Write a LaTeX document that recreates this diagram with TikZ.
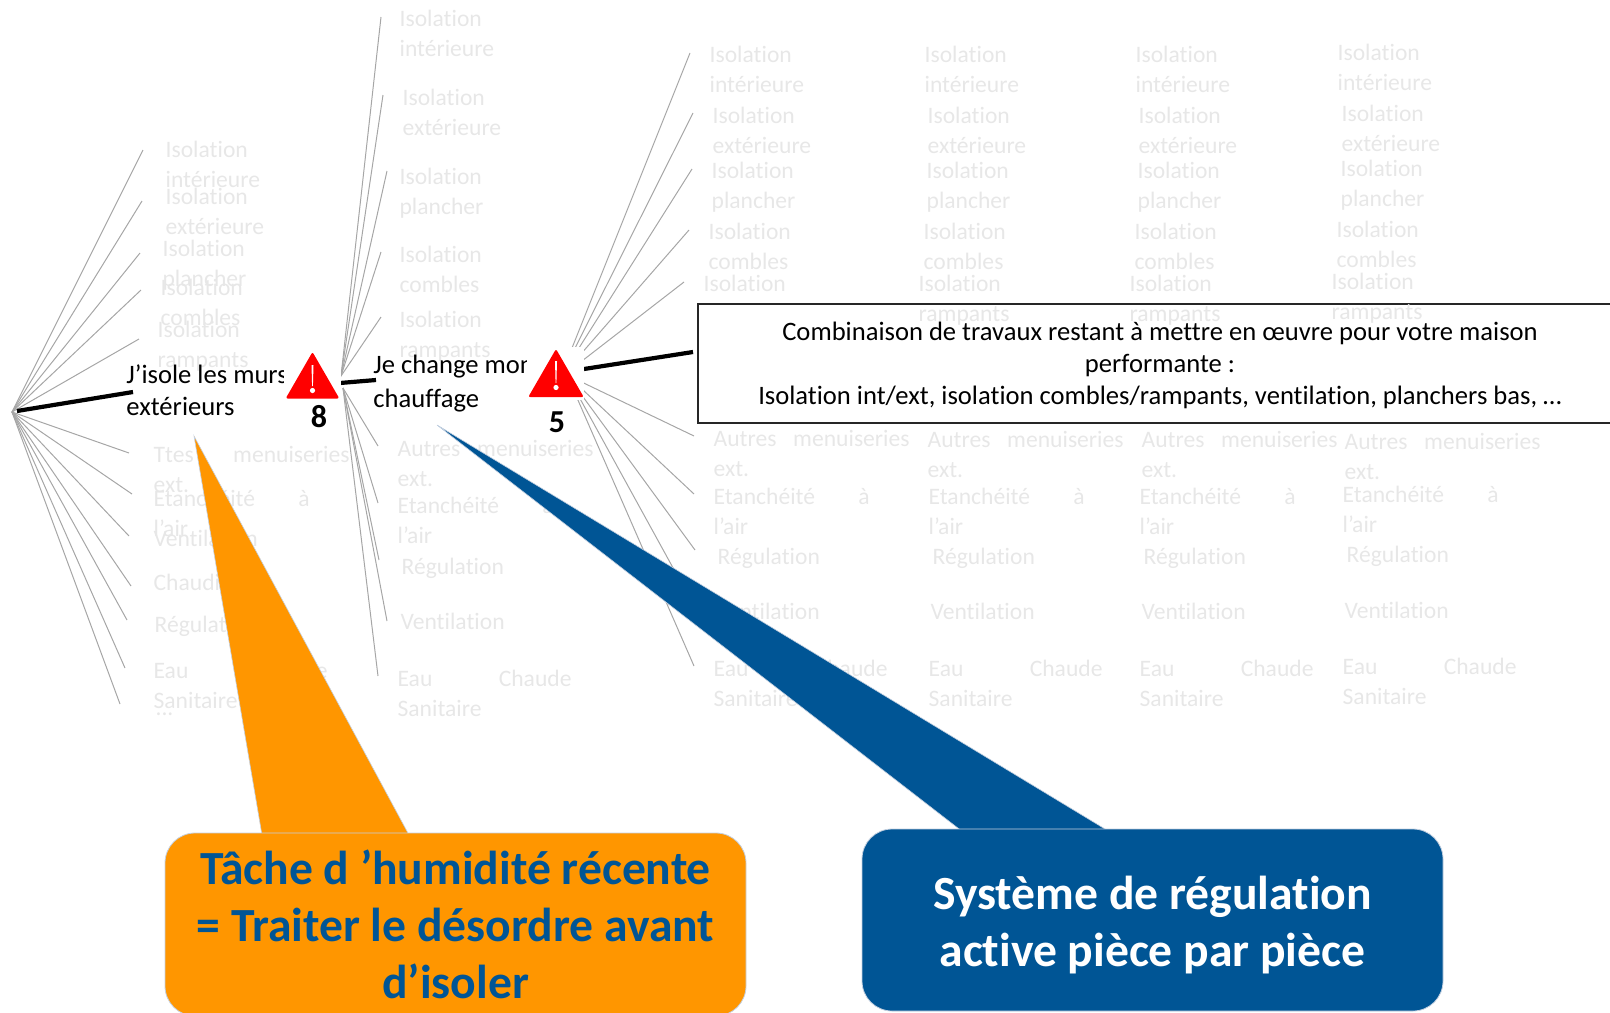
\documentclass[tikz,border=0pt]{standalone}
\usepackage{fontspec}
\setmainfont{Carlito}[Ligatures=NoCommon]
\usetikzlibrary{shapes.geometric}
\definecolor{labgray}{HTML}{E7E7E7}
\definecolor{fangray}{HTML}{A6A6A6}
\definecolor{calorange}{HTML}{FF9600}
\definecolor{calblue}{HTML}{005595}
\definecolor{caledge}{HTML}{C4D0E0}
\newcommand{\spreadline}[2]{\makebox[#1][s]{#2}}
\tikzset{
  lab/.style={text=labgray, anchor=north west, inner sep=0pt, xshift=-.4pt, align=left, font=\fontsize{11.8}{15}\selectfont, execute at begin node=\strut},
  labtwo/.style={lab, yshift=-2.6pt},
  act/.style={text=black, anchor=north west, inner sep=0pt, align=left, font=\fontsize{13.3}{16}\selectfont, execute at begin node=\strut},
  fan/.style={draw=fangray, line width=.5pt},
  thick link/.style={draw=black, line width=2.1pt},
  cover/.style={fill=white, inner sep=0pt, minimum width=28.5pt, minimum height=26.5pt},
  warn/.style={regular polygon, regular polygon sides=3, fill=red, inner sep=0pt, rounded corners=1pt},
  count/.style={inner sep=0pt, font=\fontsize{16}{18}\selectfont\bfseries},
  callbox/.style={rounded corners=15pt, inner sep=0pt, align=center, draw=caledge, line width=.4pt, minimum width=290.5pt, font=\fontsize{23.8}{28.5}\selectfont\bfseries},
  calltail/.style={draw=caledge, line width=.3pt}
}
\begin{document}
\begin{tikzpicture}[x=.5pt,y=-.5pt]
\useasboundingbox (0,0) rectangle (1610,1012);
\clip (0,0) rectangle (1610,1012);
% first fan
\coordinate (hubA) at (12,412);
\coordinate (endA0) at (143,150);
\coordinate (endA1) at (142,201);
\coordinate (endA2) at (140,253);
\coordinate (endA3) at (141,290);
\coordinate (endA4) at (139,339);
\coordinate (endA5) at (129,453);
\coordinate (endA6) at (132,494);
\coordinate (endA7) at (129,536);
\coordinate (endA8) at (131,586);
\coordinate (endA9) at (127,620);
\coordinate (endA10) at (125,668);
\coordinate (endA11) at (120,704);
\draw[fan](hubA) -- (endA0);
\draw[fan](hubA) -- (endA1);
\draw[fan](hubA) -- (endA2);
\draw[fan](hubA) -- (endA3);
\draw[fan](hubA) -- (endA4);
\draw[fan](hubA) -- (endA5);
\draw[fan](hubA) -- (endA6);
\draw[fan](hubA) -- (endA7);
\draw[fan](hubA) -- (endA8);
\draw[fan](hubA) -- (endA9);
\draw[fan](hubA) -- (endA10);
\draw[fan](hubA) -- (endA11);
% second fan
\coordinate (hubBup) at (341,376);
\coordinate (hubBlow) at (343,388);
\coordinate (endB0) at (381,17);
\coordinate (endB1) at (383,95);
\coordinate (endB2) at (387,171);
\coordinate (endB3) at (381,252);
\coordinate (endB4) at (381,317);
\coordinate (endB5) at (378,446);
\coordinate (endB6) at (378,503);
\coordinate (endB7) at (379,560);
\coordinate (endB8) at (387,621);
\coordinate (endB9) at (378,676);
\draw[fan](hubBup) -- (endB0);
\draw[fan](hubBup) -- (endB1);
\draw[fan](hubBup) -- (endB2);
\draw[fan](hubBup) -- (endB3);
\draw[fan](hubBup) -- (endB4);
\draw[fan](hubBlow) -- (endB5);
\draw[fan](hubBlow) -- (endB6);
\draw[fan](hubBlow) -- (endB7);
\draw[fan](hubBlow) -- (endB8);
\draw[fan](hubBlow) -- (endB9);
% third fan
\coordinate (hubCup) at (560,378);
\coordinate (hubClow) at (567,375);
\coordinate (endC0) at (690,53);
\coordinate (endC1) at (693,113);
\coordinate (endC2) at (692,169);
\coordinate (endC3) at (689,230);
\coordinate (endC4) at (684,282);
\coordinate (endC5) at (694,436);
\coordinate (endC6) at (694,494);
\coordinate (endC7) at (695,550);
\coordinate (endC8) at (694,606);
\coordinate (endC9) at (694,666);
\draw[fan](hubCup) -- (endC0);
\draw[fan](hubCup) -- (endC1);
\draw[fan](hubCup) -- (endC2);
\draw[fan](hubCup) -- (endC3);
\draw[fan](hubCup) -- (endC4);
\draw[fan](hubClow) -- (endC5);
\draw[fan](hubClow) -- (endC6);
\draw[fan](hubClow) -- (endC7);
\draw[fan](hubClow) -- (endC8);
\draw[fan](hubClow) -- (endC9);
% labels of the first fan
\node[labtwo] (labA0) at (166,136){Isolation\\intérieure};
\node[labtwo] (labA1) at (166,183){Isolation\\extérieure};
\node[labtwo] (labA2) at (163,235){Isolation\\plancher};
\node[labtwo] (labA3) at (161,274){Isolation\\combles};
\node[labtwo] (labA4) at (158,316){Isolation\\rampants};
\node[labtwo] (labA5) at (154,441){\spreadline{98pt}{Ttes menuiseries}\\ext.};
\node[labtwo] (labA6) at (154,485){\spreadline{78pt}{Etanchéité à}\\l’air};
\node[lab] (labA7) at (154,525){Ventilation};
\node[lab] (labA8) at (154,569){Chaudière};
\node[lab] (labA9) at (155,611){Régulation};
\node[labtwo] (labA10) at (154,657){\spreadline{87pt}{Eau Chaude}\\Sanitaire};
\node[lab] (labA11) at (156,694){...};
% labels of the second fan
\node[labtwo] (labB0) at (400,5){Isolation\\intérieure};
\node[labtwo] (labB1) at (403,84){Isolation\\extérieure};
\node[labtwo] (labB2) at (400,163){Isolation\\plancher};
\node[labtwo] (labB3) at (400,241){Isolation\\combles};
\node[labtwo] (labB4) at (400,306){Isolation\\rampants};
\node[labtwo] (labB5) at (398,435){\spreadline{98pt}{Autres menuiseries}\\ext.};
\node[labtwo] (labB6) at (398,492){\spreadline{78pt}{Etanchéité à}\\l’air};
\node[lab] (labB7) at (402,553){Régulation};
\node[lab] (labB8) at (401,608){Ventilation};
\node[labtwo] (labB9) at (398,665){\spreadline{87pt}{Eau Chaude}\\Sanitaire};
% labels of the third fan, first column
\node[labtwo] (labC0) at (710,41){Isolation\\intérieure};
\node[labtwo] (labC1) at (713,102){Isolation\\extérieure};
\node[labtwo] (labC2) at (712,157){Isolation\\plancher};
\node[labtwo] (labC3) at (709,218){Isolation\\combles};
\node[labtwo] (labC4) at (704,270){Isolation\\rampants};
\node[labtwo] (labC5) at (714,425){\spreadline{98pt}{Autres menuiseries}\\ext.};
\node[labtwo] (labC6) at (714,483){\spreadline{78pt}{Etanchéité à}\\l’air};
\node[lab] (labC7) at (718,543){Régulation};
\node[lab] (labC8) at (716,598){Ventilation};
\node[labtwo] (labC9) at (714,655){\spreadline{87pt}{Eau Chaude}\\Sanitaire};
% text box
\coordinate (linkC0) at (584,369);
\coordinate (linkC1) at (693,352);
\draw[thick link](linkC0) -- (linkC1);
\node[draw=black!85, line width=.55pt, fill=white, inner sep=0pt, minimum width=462pt, minimum height=59.5pt, align=center, font=\fontsize{13.3}{16}\selectfont] (work) at (1160,363.5){\rule{0pt}{11pt}Combinaison de travaux restant à mettre en œuvre pour votre maison\\performante :\\Isolation int/ext, isolation combles/rampants, ventilation, planchers bas, …};
% labels, second column
\node[labtwo] (labD0) at (925,41){Isolation\\intérieure};
\node[labtwo] (labD1) at (928,102){Isolation\\extérieure};
\node[labtwo] (labD2) at (927,157){Isolation\\plancher};
\node[labtwo] (labD3) at (924,218){Isolation\\combles};
\node[labtwo] (labD4) at (919,270){Isolation\\rampants};
\node[labtwo] (labD5) at (928,426){\spreadline{98pt}{Autres menuiseries}\\ext.};
\node[labtwo] (labD6) at (929,483){\spreadline{78pt}{Etanchéité à}\\l’air};
\node[lab] (labD7) at (933,543){Régulation};
\node[lab] (labD8) at (931,598){Ventilation};
\node[labtwo] (labD9) at (929,655){\spreadline{87pt}{Eau Chaude}\\Sanitaire};
% labels, third column
\node[labtwo] (labE0) at (1136,41){Isolation\\intérieure};
\node[labtwo] (labE1) at (1139,102){Isolation\\extérieure};
\node[labtwo] (labE2) at (1138,157){Isolation\\plancher};
\node[labtwo] (labE3) at (1135,218){Isolation\\combles};
\node[labtwo] (labE4) at (1130,270){Isolation\\rampants};
\node[labtwo] (labE5) at (1142,426){\spreadline{98pt}{Autres menuiseries}\\ext.};
\node[labtwo] (labE6) at (1140,483){\spreadline{78pt}{Etanchéité à}\\l’air};
\node[lab] (labE7) at (1144,543){Régulation};
\node[lab] (labE8) at (1142,598){Ventilation};
\node[labtwo] (labE9) at (1140,655){\spreadline{87pt}{Eau Chaude}\\Sanitaire};
% labels, fourth column
\node[labtwo] (labF0) at (1338,39){Isolation\\intérieure};
\node[labtwo] (labF1) at (1342,100){Isolation\\extérieure};
\node[labtwo] (labF2) at (1341,155){Isolation\\plancher};
\node[labtwo] (labF3) at (1337,216){Isolation\\combles};
\node[labtwo] (labF4) at (1332,268){Isolation\\rampants};
\node[labtwo] (labF5) at (1345,428){\spreadline{98pt}{Autres menuiseries}\\ext.};
\node[labtwo] (labF6) at (1343,481){\spreadline{78pt}{Etanchéité à}\\l’air};
\node[lab] (labF7) at (1347,541){Régulation};
\node[lab] (labF8) at (1345,597){Ventilation};
\node[labtwo] (labF9) at (1343,653){\spreadline{87pt}{Eau Chaude}\\Sanitaire};
% actions
\node[act] (actA) at (126,364){J’isole les murs\\extérieurs};
\node[act] (actB) at (373,355){Je change mon\\[.7pt]chauffage};
\coordinate (linkA0) at (17,411);
\coordinate (linkA1) at (133,392);
\coordinate (linkB0) at (340,383);
\coordinate (linkB1) at (376,380);
\draw[thick link](linkA0) -- (linkA1);
\draw[thick link](linkB0) -- (linkB1);
% warnings
\node[cover] (cover8) at (312.5,373.5){};
\node[cover] (cover5) at (555.5,373.5){};
\node[warn, minimum size=31pt] (warn8) at (312.5,383){};
\node[warn, minimum size=32pt] (warn5) at (556,381){};
\fill[white] (311.5,365) -- (313.5,365) -- (312.9,386) -- (312.1,386) -- cycle;
\fill[white] (312.5,390.5) circle (1.3pt);
\fill[white] (555,361) -- (557,361) -- (556.4,383) -- (555.6,383) -- cycle;
\fill[white] (556,387.5) circle (1.3pt);
\node[count] (num8) at (319,417){8};
\node[count] (num5) at (557,422){5};
% callouts
\coordinate (tipO) at (194,436);
\coordinate (baseO0) at (262,835);
\coordinate (baseO1) at (409,835);
\coordinate (tipB) at (437,425);
\coordinate (baseB0) at (963,832);
\coordinate (baseB1) at (1110,832);
\filldraw[calltail, fill=calorange] (tipO) -- (baseO0) -- (baseO1) -- cycle;
\filldraw[calltail, fill=calblue] (tipB) -- (baseB0) -- (baseB1) -- cycle;
\node[callbox, fill=calorange, text=calblue, minimum height=91.5pt] (noteO) at (455.5,924.5){Tâche d ’humidité récente\\= Traiter le désordre avant\\d’isoler};
\node[callbox, fill=calblue, text=white, minimum height=91pt] (noteB) at (1152.5,920){\rule{0pt}{22pt}Système de régulation\\active pièce par pièce};
\end{tikzpicture}
\end{document}
